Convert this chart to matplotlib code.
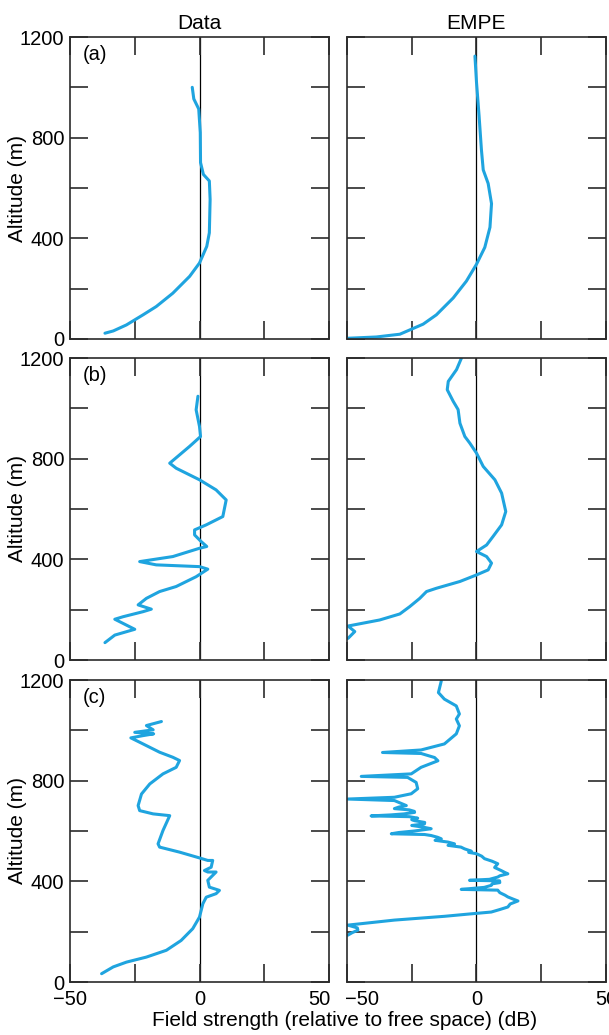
import matplotlib
matplotlib.use('Agg')
import matplotlib.pyplot as plt
from matplotlib.transforms import ScaledTranslation

plt.rcParams['font.family'] = ['Liberation Sans', 'DejaVu Sans']

## field strength profiles: altitude (m) and field strength (dB rel. free space)

# (a) measured
a_data_alt = [1000, 954, 914, 820, 701, 654, 628, 555, 422, 368, 302, 249, 182, 129, 96, 56, 32, 23]
a_data_db = [-2.8, -2.2, -0.3, 0.3, 0.4, 1.5, 3.8, 4.1, 3.8, 2.8, 0.0, -3.8, -10.3, -16.7, -21.8, -28.2, -33.3, -36.5]

# (a) EMPE
a_empe_alt = [1124, 1020, 886, 752, 672, 618, 538, 444, 364, 297, 230, 163, 96, 59, 19, 8, 3]
a_empe_db = [-0.6, 0.0, 1.0, 1.9, 2.6, 4.5, 5.8, 5.2, 3.2, 0.0, -3.9, -9.0, -15.5, -20.6, -29.6, -38.7, -49.6]

# (b) measured
b_data_alt = [1048, 994, 928, 888, 849, 782, 762, 716, 676, 636, 570, 537, 517, 497, 471, 451,
              444, 411, 391, 378, 371, 361, 331, 292, 272, 245, 219, 202, 192, 172, 162, 122, 99, 69]
b_data_db = [-0.6, -1.3, 0.0, 0.4, -3.8, -11.5, -9.0, 0.0, 6.4, 10.3, 9.0, 2.6, -1.9, -1.9, 0.6, 2.8,
             0.0, -10.3, -23.1, -16.7, 0.0, 3.2, -1.3, -9.0, -15.4, -20.5, -23.7, -18.6, -21.8, -29.5, -32.7, -25.0, -32.7, -36.5]

# (b) EMPE
b_empe_alt = [1200, 1154, 1107, 1074, 1028, 995, 941, 888, 862, 822, 769, 716, 663, 590, 537, 491, 457,
              435, 431, 411, 385, 358, 338, 312, 285, 272, 245, 212, 183, 159, 135, 113, 86]
b_empe_db = [-5.8, -7.7, -10.9, -11.3, -9.0, -7.1, -6.4, -4.5, -2.6, 0.0, 2.6, 7.1, 9.7, 11.3, 9.7, 6.4, 3.9,
             0.6, 0.0, 3.9, 5.8, 4.5, 0.0, -6.4, -15.5, -19.3, -21.9, -25.8, -29.6, -37.4, -49.6, -47.0, -49.6]

# (c) measured
c_data_alt = [1035, 1019, 1002, 992, 986, 979, 970, 946, 913, 893, 880, 853, 827, 787, 747, 701, 681,
              668, 661, 602, 549, 536, 516, 493, 483, 483, 456, 443, 437, 437, 404, 377, 364, 351, 337,
              311, 258, 212, 165, 126, 99, 79, 60, 33]
c_data_db = [-14.7, -20.5, -17.9, -25.0, -17.7, -21.8, -26.5, -21.8, -15.4, -10.3, -7.7, -9.0, -14.1, -19.2, -22.4, -23.7, -23.1,
             -17.9, -11.5, -14.1, -16.0, -15.4, -7.7, 0.0, 3.2, 5.1, 4.5, 1.9, 3.2, 6.4, 3.2, 3.8, 7.7, 6.4, 2.6,
             1.3, 0.0, -2.6, -7.1, -12.8, -20.5, -28.2, -33.3, -37.8]

# (c) EMPE
c_empe_alt = [1196, 1150, 1124, 1097, 1065, 1045, 1018, 986, 946, 922, 912, 908, 892, 879, 853, 827, 817,
              813, 793, 768, 748, 734, 727, 721, 701, 695, 689, 684, 678, 674, 668, 664, 660, 657, 651,
              645, 641, 634, 628, 622, 616, 609, 600, 594, 589, 586, 582, 575, 569, 563, 556, 549, 543,
              536, 529, 520, 515, 510, 500, 490, 480, 470, 455, 443, 435, 430, 422, 417, 408, 404, 402,
              395, 390, 384, 376, 368, 365, 355, 345, 338, 330, 322, 310, 298, 288, 278, 270, 261, 246,
              226, 215, 206, 196, 186]
c_empe_db = [-13.6, -14.7, -12.4, -7.8, -6.6, -7.8, -6.6, -7.8, -12.4, -21.4, -36.3, -21.4, -16.2, -14.9, -21.4, -25.2, -44.5,
             -26.6, -23.3, -22.7, -25.2, -31.7, -49.7, -31.7, -27.1, -30.0, -31.7, -26.0, -24.0, -23.9, -28.0, -33.0, -40.7, -26.0, -22.7,
             -25.0, -23.9, -20.0, -20.1, -25.0, -21.0, -17.5, -24.0, -30.0, -32.9, -20.0, -17.5, -15.0, -13.6, -16.0, -11.0, -8.5, -11.0,
             -6.0, -4.6, -2.0, -3.0, -0.1, 2.0, 3.1, 6.0, 8.2, 7.0, 9.5, 11.0, 12.1, 9.0, 8.2, 5.0, -2.7, 8.9,
             9.0, 6.0, 5.7, 3.0, -5.9, 8.2, 9.0, 11.0, 12.1, 14.0, 16.0, 13.0, 12.1, 9.0, 5.7, -3.0, -12.4, -31.7,
             -49.7, -46.0, -45.8, -48.0, -49.7]

panels = [
    [(a_data_db, a_data_alt), (a_empe_db, a_empe_alt)],
    [(b_data_db, b_data_alt), (b_empe_db, b_empe_alt)],
    [(c_data_db, c_data_alt), (c_empe_db, c_empe_alt)],
]
row_tags = ['(a)', '(b)', '(c)']

blue = '#1fa4df'
frame = '#2b2b2b'
fs = 15

fig = plt.figure(figsize=(6.09, 10.35), dpi=100)

lefts = [70 / 609, 347 / 609]
width = 259 / 609
bottoms = [1 - 339 / 1035, 1 - 660 / 1035, 1 - 982 / 1035]
height = 302 / 1035

for r in range(3):
    for c in range(2):
        ax = fig.add_axes([lefts[c], bottoms[r], width, height])
        x, y = panels[r][c]
        ax.axvline(0, color='black', lw=0.9, zorder=1)
        ax.plot(x, y, color=blue, lw=2.2, solid_joinstyle='round', solid_capstyle='round', zorder=2)
        ax.set_xlim(-50, 50)
        ax.set_ylim(0, 1200)
        for s in ax.spines.values():
            s.set_color(frame)
            s.set_linewidth(1.2)
        ax.set_xticks([-50, -25, 0, 25, 50])
        ax.set_yticks(range(0, 1201, 200))
        ax.tick_params(direction='in', length=13, width=1.2, color=frame,
                       top=True, right=True, labelsize=14.5)
        ax.tick_params(axis='y', pad=4)
        ax.tick_params(axis='x', pad=6)
        if c == 0:
            ax.set_yticklabels(['0', '', '400', '', '800', '', '1200'])
            ax.set_ylabel('Altitude (m)', fontsize=fs)
            ax.yaxis.set_label_coords(-0.165, 0.5)
            ax.text(0.05, 0.943, row_tags[r], transform=ax.transAxes,
                    fontsize=14.5, va='center', ha='left')
        else:
            ax.set_yticklabels([])
        if r == 2:
            labels = ax.set_xticklabels(['\u221250', '', '0', '', '50'])
            # keep the 50 | -50 labels at the shared edge apart
            if c == 0:
                shift = ScaledTranslation(-7 / 72, 0, fig.dpi_scale_trans)
                labels[4].set_transform(labels[4].get_transform() + shift)
            else:
                shift = ScaledTranslation(11 / 72, 0, fig.dpi_scale_trans)
                labels[0].set_transform(labels[0].get_transform() + shift)
        else:
            ax.set_xticklabels([])
        if r == 0:
            ax.set_title(['Data', 'EMPE'][c], fontsize=fs, pad=6)

fig.text(345 / 609, 1 - 1021 / 1035, 'Field strength (relative to free space) (dB)',
         ha='center', va='center', fontsize=fs)

plt.savefig('out.png', dpi=100)
